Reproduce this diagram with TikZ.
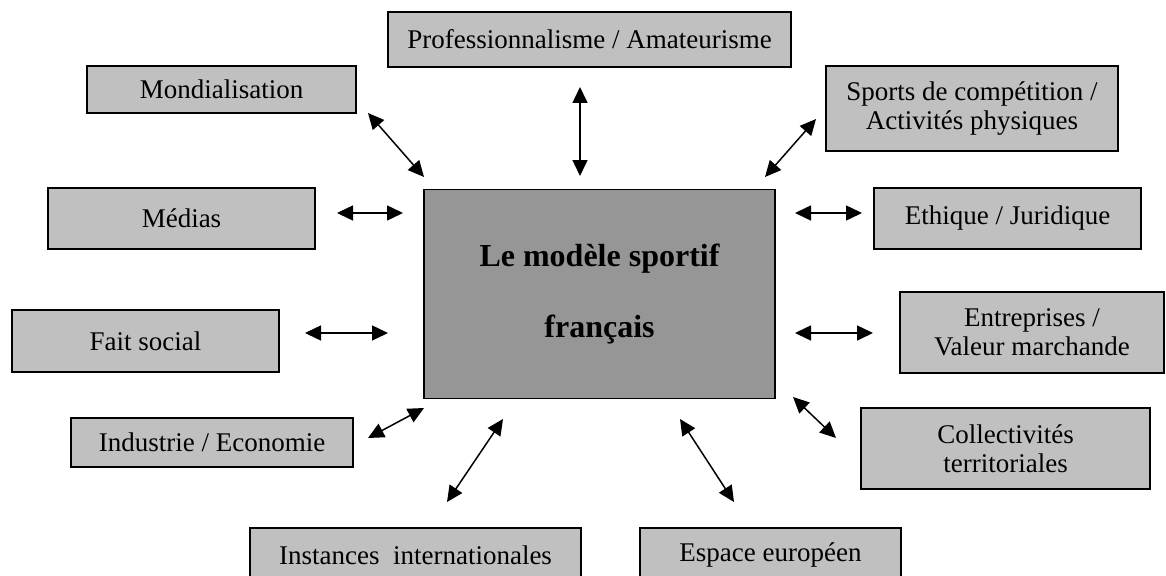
\documentclass[tikz,border=0pt]{standalone}
\usepackage{fontspec}
\setmainfont{Liberation Serif}
\usepackage{tikz}
\usetikzlibrary{arrows.meta}
\definecolor{boxgray}{RGB}{192,192,192}
\definecolor{ctrgray}{RGB}{150,150,150}
\tikzset{
  boxgr/.style={ draw, line width=1.6pt, fill=boxgray, inner sep=0pt, align=center, font=\fontsize{27}{29}\selectfont }
}
\tikzset{
  boxctr/.style={ draw, line width=1.6pt, fill=ctrgray, inner sep=0pt, align=center, font=\bfseries\fontsize{32}{71}\selectfont }
}
\tikzset{
  dbl/.style={ line width=1.5pt, {Triangle[length=16pt,width=15pt]}-{Triangle[length=16pt,width=15pt]} }
}

\begin{document}
\begin{tikzpicture}[x=1pt, y=-1pt]
      \useasboundingbox (0, 0) rectangle (1166, 575);
      \node[boxctr, minimum width=351, minimum height=209] (model) at (599.5, 294) {Le modèle sportif\\français};

      \node[boxgr, minimum width=403, minimum height=55] (prof) at (589.5, 39.5) {Professionnalisme / Amateurisme};
      \node[boxgr, minimum width=269, minimum height=47] (mond) at (221.5, 89.5) {Mondialisation};
      \node[boxgr, minimum width=292, minimum height=85] (sports) at (972, 108.5) {Sports de compétition /\\Activités physiques};
      \node[boxgr, minimum width=267, minimum height=61] (medias) at (181.5, 218.5) {Médias};
      \node[boxgr, minimum width=267, minimum height=61] (ethique) at (1007.5, 218.5) {Ethique / Juridique};
      \node[boxgr, minimum width=267, minimum height=62] (fait) at (145.5, 341) {Fait social};
      \node[boxgr, minimum width=264, minimum height=81] (entr) at (1032, 332.5) {Entreprises /\\Valeur marchande};
      \node[boxgr, minimum width=282, minimum height=49] (indus) at (212, 442.5) {Industrie / Economie};
      \node[boxgr, minimum width=289, minimum height=81] (collec) at (1005.5, 448.5) {Collectivités\\territoriales};
      \node[boxgr, minimum width=331, minimum height=54] (inst) at (415.5, 555) {Instances\ \ internationales};
      \node[boxgr, minimum width=261, minimum height=54] (europe) at (770.5, 555) {Espace européen};

      % arrow ends
      \coordinate (profA) at (580, 87);    \coordinate (profB) at (580, 176);
      \coordinate (mondA) at (368, 113);   \coordinate (mondB) at (424, 177);
      \coordinate (sportsA) at (816, 119); \coordinate (sportsB) at (765, 177);
      \coordinate (mediasA) at (337, 213); \coordinate (mediasB) at (403, 213);
      \coordinate (ethA) at (862, 213);    \coordinate (ethB) at (795, 213);
      \coordinate (faitA) at (305, 333);   \coordinate (faitB) at (388, 333);
      \coordinate (entrA) at (873, 333);   \coordinate (entrB) at (795, 333);
      \coordinate (indusA) at (368, 438);  \coordinate (indusB) at (424, 408);
      \coordinate (collecA) at (836, 438); \coordinate (collecB) at (793, 397);
      \coordinate (instA) at (447, 502);   \coordinate (instB) at (503, 419);
      \coordinate (europeA) at (734, 502); \coordinate (europeB) at (680, 419);

      \draw[dbl] (profA) -- (profB);
      \draw[dbl] (mondA) -- (mondB);
      \draw[dbl] (sportsA) -- (sportsB);
      \draw[dbl] (mediasA) -- (mediasB);
      \draw[dbl] (ethA) -- (ethB);
      \draw[dbl] (faitA) -- (faitB);
      \draw[dbl] (entrA) -- (entrB);
      \draw[dbl] (indusA) -- (indusB);
      \draw[dbl] (collecA) -- (collecB);
      \draw[dbl] (instA) -- (instB);
      \draw[dbl] (europeA) -- (europeB);
    \end{tikzpicture}
\end{document}
